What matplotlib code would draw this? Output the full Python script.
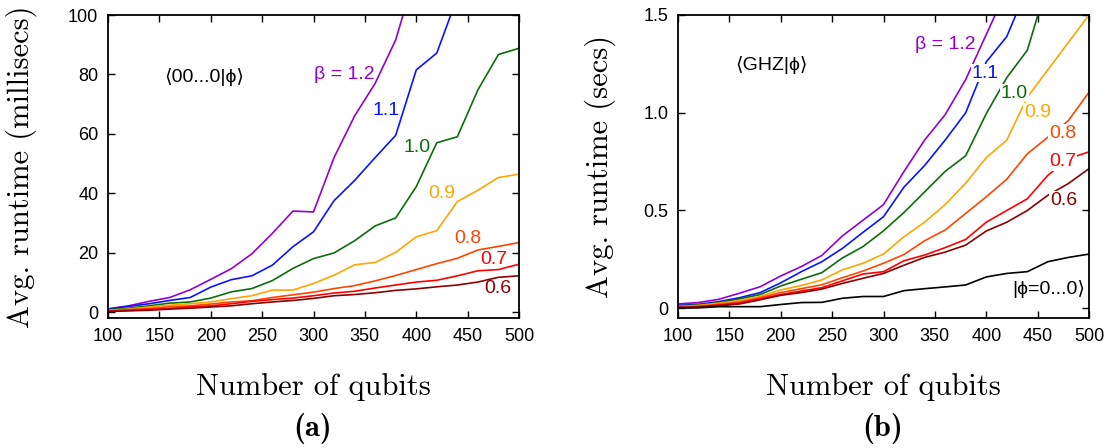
import numpy as np
import matplotlib
matplotlib.use("Agg")
import matplotlib.pyplot as plt

qubits = list(range(100, 501, 20))

# Panel (a): <00...0|phi>, milliseconds
a_b12 = [1.1, 2.1, 3.6, 4.9, 7.5, 11, 14.6, 19.6, 26.5, 34, 33.7, 52, 66, 77, 91.6, 115]
a_b11 = [1.0, 1.9, 2.8, 3.9, 4.9, 8.4, 10.9, 12.2, 15.8, 22, 27, 37.5, 44.3, 52, 59.5, 81.5, 87.2, 106]
a_b10 = [0.8, 1.3, 2.1, 3.0, 3.4, 4.7, 6.8, 7.9, 10.6, 14.7, 18, 19.9, 24, 29, 31.7, 42.2, 57, 59, 74.8, 86.7, 88.8]
a_b09 = [0.6, 1.0, 1.7, 2.3, 2.8, 3.4, 4.5, 5.5, 7.4, 7.4, 9.6, 12.4, 15.9, 16.7, 20.1, 25.3, 27.4, 37.2, 41, 45.3, 46.4]
a_b08 = [0.4, 0.8, 1.2, 1.8, 2.1, 2.7, 3.4, 3.8, 4.9, 5.8, 6.7, 7.9, 8.9, 10.5, 12.3, 14.3, 16.3, 18.1, 20.9, 22.1, 23.4]
a_b07 = [0.3, 0.6, 0.9, 1.2, 1.7, 2.1, 2.8, 3.6, 4.2, 4.7, 5.5, 6.4, 7.0, 8.1, 9.1, 10.1, 10.7, 12.2, 13.9, 14.3, 16.1]
a_b06 = [0.2, 0.4, 0.6, 1.0, 1.3, 1.7, 2.1, 2.8, 3.4, 3.9, 4.6, 5.5, 5.9, 6.5, 7.3, 7.8, 8.5, 9.1, 10.1, 11.7, 12.2]

# Panel (b): <GHZ|phi>, seconds
b_b12 = [0.022, 0.029, 0.046, 0.077, 0.11, 0.165, 0.213, 0.27, 0.37, 0.45, 0.53, 0.70, 0.86, 0.99, 1.17, 1.40, 1.63]
b_b11 = [0.015, 0.02, 0.034, 0.054, 0.08, 0.13, 0.187, 0.238, 0.306, 0.388, 0.468, 0.62, 0.73, 0.86, 1.0, 1.26, 1.39, 1.64]
b_b10 = [0.012, 0.017, 0.029, 0.048, 0.07, 0.114, 0.148, 0.182, 0.257, 0.315, 0.396, 0.49, 0.595, 0.70, 0.78, 0.995, 1.18, 1.32, 1.67]
b_b09 = [0.009, 0.014, 0.026, 0.039, 0.06, 0.094, 0.116, 0.145, 0.196, 0.23, 0.277, 0.366, 0.44, 0.53, 0.64, 0.77, 0.86, 1.08, 1.22, 1.36, 1.5]
b_b08 = [0.007, 0.01, 0.02, 0.032, 0.054, 0.08, 0.10, 0.12, 0.156, 0.19, 0.23, 0.275, 0.345, 0.40, 0.485, 0.57, 0.66, 0.79, 0.875, 0.96, 1.105]
b_b07 = [0.005, 0.008, 0.017, 0.027, 0.048, 0.07, 0.088, 0.105, 0.14, 0.175, 0.187, 0.243, 0.272, 0.31, 0.352, 0.44, 0.50, 0.56, 0.68, 0.765, 0.80]
b_b06 = [0.004, 0.006, 0.013, 0.022, 0.043, 0.066, 0.08, 0.098, 0.127, 0.153, 0.178, 0.22, 0.26, 0.287, 0.323, 0.395, 0.44, 0.50, 0.578, 0.638, 0.714]
b_zero = [0.0, 0.002, 0.008, 0.008, 0.008, 0.019, 0.029, 0.03, 0.051, 0.06, 0.06, 0.09, 0.10, 0.109, 0.119, 0.16, 0.178, 0.187, 0.238, 0.26, 0.277]

beta_labels = ["β = 1.2", "1.1", "1.0", "0.9", "0.8", "0.7", "0.6"]
colors = ["#9400d3", "#0a14ff", "#0a6e0a", "#ffa500", "#ff4500", "#ff0000", "#8b0000"]

a_series = [a_b12, a_b11, a_b10, a_b09, a_b08, a_b07, a_b06]
b_series = [b_b12, b_b11, b_b10, b_b09, b_b08, b_b07, b_b06]

a_label_pos = [(330, 80), (370.6, 67.8), (400.7, 55.4), (425, 40), (450, 24.8), (475.7, 17.8), (479.6, 8.0)]
b_label_pos = [(360.3, 1.348), (399.3, 1.203), (427.5, 1.10), (449.9, 1.00), (474.2, 0.895), (474.2, 0.749), (475.2, 0.552)]

W, H = 1115, 448
fig = plt.figure(figsize=(W / 100, H / 100), dpi=100)

sans = ["Liberation Sans", "DejaVu Sans"]
serif = "cmr10"
ann_fs = 14
tick_fs = 13

def make_ax(x0):
    ax = fig.add_axes([x0 / W, 1 - 318 / H, 411 / W, 303 / H])
    for s in ax.spines.values():
        s.set_linewidth(1.3)
    ax.tick_params(direction="in", top=True, right=True, length=5, width=1.0,
                   labelsize=tick_fs, pad=7)
    ax.set_xlim(100, 500)
    ax.set_xticks(range(100, 501, 50))
    return ax

# Panel (a)
ax1 = make_ax(108)
for vals, c in zip(a_series, colors):
    ax1.plot(qubits[:len(vals)], vals, color=c, lw=1.2)
ax1.set_ylim(-2, 100)
ax1.set_yticks([0, 20, 40, 60, 80, 100])
for (x, y), t, c in zip(a_label_pos, beta_labels, colors):
    ax1.text(x, y, t, color=c, fontsize=ann_fs, family=sans, ha="center", va="center")
ax1.text(194, 79, "⟨00...0|ϕ⟩", fontsize=ann_fs, family=sans, ha="center", va="center")
for lab in ax1.get_xticklabels() + ax1.get_yticklabels():
    lab.set_family(sans)

# Panel (b)
ax2 = make_ax(678)
for vals, c in zip(b_series, colors):
    ax2.plot(qubits[:len(vals)], vals, color=c, lw=1.2)
ax2.plot(qubits, b_zero, color="black", lw=1.2)
ax2.set_ylim(-0.05, 1.5)
ax2.set_yticks([0, 0.5, 1.0, 1.5])
ax2.set_yticklabels(["0", "0.5", "1.0", "1.5"])
for (x, y), t, c in zip(b_label_pos, beta_labels, colors):
    ax2.text(x, y, t, color=c, fontsize=ann_fs, family=sans, ha="center", va="center",
             bbox=dict(facecolor="white", edgecolor="none", pad=0.5))
ax2.text(191, 1.246, "⟨GHZ|ϕ⟩", fontsize=ann_fs, family=sans, ha="center", va="center")
ax2.text(461, 0.098, "|ϕ=0...0⟩", fontsize=ann_fs, family=sans, ha="center", va="center",
         bbox=dict(facecolor="white", edgecolor="none", pad=0.5))
for lab in ax2.get_xticklabels() + ax2.get_yticklabels():
    lab.set_family(sans)

# Labels
lab_fs = 22
fig.text(21 / W, 1 - 167 / H, "Avg. runtime (millisecs)", family=serif, fontsize=lab_fs,
         rotation=90, ha="center", va="center")
fig.text(600 / W, 1 - 166 / H, "Avg. runtime (secs)", family=serif, fontsize=lab_fs,
         rotation=90, ha="center", va="center")
fig.text(313 / W, 1 - 387 / H, "Number of qubits", family=serif, fontsize=lab_fs,
         ha="center", va="center")
fig.text(883 / W, 1 - 387 / H, "Number of qubits", family=serif, fontsize=lab_fs,
         ha="center", va="center")
fig.text(313 / W, 1 - 428 / H, "(a)", family="cmb10", fontsize=lab_fs,
         ha="center", va="center")
fig.text(883 / W, 1 - 428 / H, "(b)", family="cmb10", fontsize=lab_fs,
         ha="center", va="center")

fig.savefig("out.png", dpi=100)
